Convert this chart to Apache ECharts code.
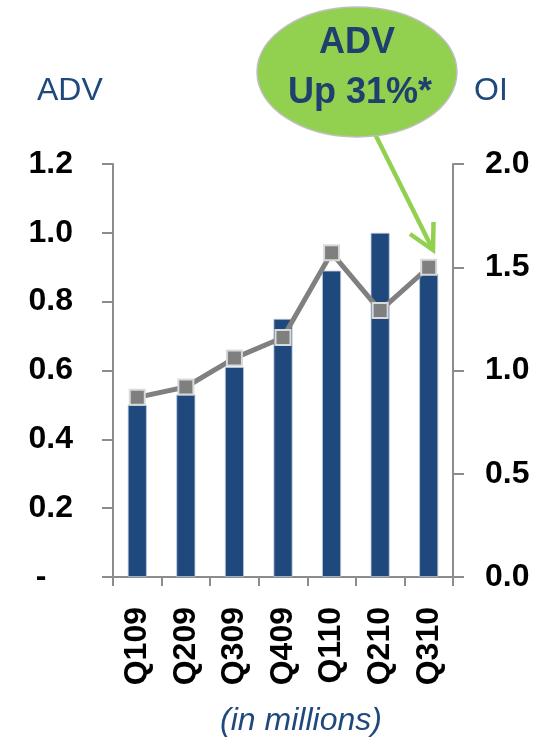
<!DOCTYPE html>
<html>
<head>
<meta charset="utf-8">
<title>ADV and OI by quarter</title>
<script src="https://cdn.jsdelivr.net/npm/echarts@6/dist/echarts.min.js"></script>
<style>
  html, body { margin: 0; padding: 0; background: #ffffff; }
  #chart { width: 537px; height: 737px; }
</style>
</head>
<body>
<div id="chart"></div>
<script>
// Quarters on the category axis
const quarters = ['Q109', 'Q209', 'Q309', 'Q409', 'Q110', 'Q210', 'Q310'];
// Average daily volume (left axis, millions)
const advValues = [0.50, 0.53, 0.61, 0.75, 0.89, 1.00, 0.88];
// Open interest (right axis, millions)
const oiValues = [0.87, 0.92, 1.06, 1.16, 1.57, 1.29, 1.50];
// Axis tick settings
const advTicks = { min: 0, max: 1.2, interval: 0.2 };
const oiTicks = { min: 0, max: 2.0, interval: 0.5 };

const NAVY = '#1f497d';
const TEXT_NAVY = '#1f3f6e';
const GREEN = '#92d050';
const AXIS_GRAY = '#8c8c8c';
const FONT = '"Liberation Sans", Arial, Helvetica, sans-serif';

const chart = echarts.init(document.getElementById('chart'), null, { renderer: 'canvas' });

const axisLineStyle = { show: true, lineStyle: { color: AXIS_GRAY, width: 2 } };

chart.setOption({
  animation: false,
  backgroundColor: '#ffffff',
  grid: { left: 113, right: 84, top: 164, bottom: 160, containLabel: false },
  xAxis: {
    type: 'category',
    data: quarters,
    boundaryGap: true,
    axisLine: axisLineStyle,
    axisTick: { show: true, alignWithLabel: false, length: 9, lineStyle: { color: AXIS_GRAY, width: 2 } },
    axisLabel: {
      interval: 0,
      rotate: 90,
      margin: 30,
      color: '#000000',
      fontFamily: FONT,
      fontWeight: 'bold',
      fontSize: 32
    }
  },
  yAxis: [
    {
      type: 'value',
      position: 'left',
      min: advTicks.min,
      max: advTicks.max,
      interval: advTicks.interval,
      axisLine: axisLineStyle,
      axisTick: { show: true, inside: false, length: 11, lineStyle: { color: AXIS_GRAY, width: 2 } },
      splitLine: { show: false },
      axisLabel: {
        margin: 40,
        color: '#000000',
        fontFamily: FONT,
        fontWeight: 'bold',
        fontSize: 32,
        padding: [6, 0, 0, 0],
        formatter: function (v) { return v === 0 ? '-   ' : v.toFixed(1); }
      }
    },
    {
      type: 'value',
      position: 'right',
      min: oiTicks.min,
      max: oiTicks.max,
      interval: oiTicks.interval,
      axisLine: axisLineStyle,
      axisTick: { show: true, inside: false, length: 11, lineStyle: { color: AXIS_GRAY, width: 2 } },
      splitLine: { show: false },
      axisLabel: {
        margin: 32,
        color: '#000000',
        fontFamily: FONT,
        fontWeight: 'bold',
        fontSize: 32,
        padding: [6, 0, 0, 0],
        formatter: function (v) { return v.toFixed(1); }
      }
    }
  ],
  series: [
    {
      name: 'ADV',
      type: 'bar',
      yAxisIndex: 0,
      data: advValues,
      barWidth: 19,
      itemStyle: { color: NAVY, borderColor: '#b9c8dc', borderWidth: 0.8 },
      z: 2
    },
    {
      name: 'OI',
      type: 'line',
      yAxisIndex: 1,
      data: oiValues,
      symbol: 'rect',
      symbolSize: 15,
      showSymbol: true,
      lineStyle: { color: '#808080', width: 5 },
      itemStyle: { color: '#7f7f7f', borderColor: '#d9d9d9', borderWidth: 2 },
      z: 3
    }
  ],
  graphic: [
    // Axis titles
    {
      type: 'text', left: 37, top: 75,
      style: { text: 'ADV', fill: NAVY, font: '32px ' + FONT }
    },
    {
      type: 'text', left: 474, top: 75,
      style: { text: 'OI', fill: NAVY, font: '32px ' + FONT }
    },
    // Units note
    {
      type: 'text', x: 301, y: 721,
      style: {
        text: '(in millions)', fill: NAVY, font: 'italic 32px ' + FONT,
        align: 'center', verticalAlign: 'middle'
      }
    },
    // Callout arrow shaft
    {
      type: 'line', z: 10,
      shape: { x1: 372, y1: 128, x2: 432, y2: 248 },
      style: { stroke: GREEN, lineWidth: 4.5, lineCap: 'butt' }
    },
    // Callout arrow head
    {
      type: 'polyline', z: 10,
      shape: { points: [[410, 234], [433, 250], [433.5, 222]] },
      style: { stroke: GREEN, lineWidth: 4.5, fill: null, lineJoin: 'miter', lineCap: 'butt' }
    },
    // Callout bubble
    {
      type: 'ellipse', z: 11,
      shape: { cx: 357, cy: 72, rx: 100, ry: 65 },
      style: { fill: GREEN, stroke: '#bfbfbf', lineWidth: 1.5 }
    },
    {
      type: 'text', z: 12, x: 357, y: 43,
      style: {
        text: 'ADV', fill: TEXT_NAVY, font: 'bold 36px ' + FONT,
        align: 'center', verticalAlign: 'middle'
      }
    },
    {
      type: 'text', z: 12, x: 360, y: 93,
      style: {
        text: 'Up 31%*', fill: TEXT_NAVY, font: 'bold 36px ' + FONT,
        align: 'center', verticalAlign: 'middle'
      }
    }
  ]
});
</script>
</body>
</html>
